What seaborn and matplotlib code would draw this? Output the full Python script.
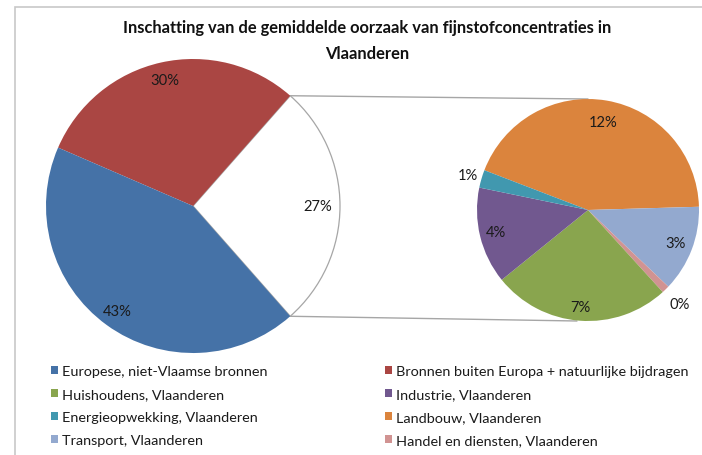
import numpy as np
import matplotlib
matplotlib.use("Agg")
import matplotlib.pyplot as plt
import matplotlib.patches as mpatches
import seaborn as sns

# ---- data ----
title = "Inschatting van de gemiddelde oorzaak van fijnstofconcentraties in\nVlaanderen"
main_labels = ["Europese, niet-Vlaamse bronnen", "Bronnen buiten Europa + natuurlijke bijdragen"]
main_values = [43, 30]
sub_labels = ["Landbouw, Vlaanderen", "Transport, Vlaanderen", "Handel en diensten, Vlaanderen",
              "Huishoudens, Vlaanderen", "Industrie, Vlaanderen", "Energieopwekking, Vlaanderen"]
sub_values = [11.8, 3.4, 0.3, 7.0, 3.8, 0.7]
legend_order = ["Europese, niet-Vlaamse bronnen", "Bronnen buiten Europa + natuurlijke bijdragen",
                "Huishoudens, Vlaanderen", "Industrie, Vlaanderen",
                "Energieopwekking, Vlaanderen", "Landbouw, Vlaanderen",
                "Transport, Vlaanderen", "Handel en diensten, Vlaanderen"]

sns.set_style("white")
plt.rcParams['font.family'] = ['Lato', 'DejaVu Sans']

colors = {
    "Europese, niet-Vlaamse bronnen": "#4572A7",
    "Bronnen buiten Europa + natuurlijke bijdragen": "#AA4643",
    "Huishoudens, Vlaanderen": "#89A54E",
    "Industrie, Vlaanderen": "#71588F",
    "Energieopwekking, Vlaanderen": "#4198AF",
    "Landbouw, Vlaanderen": "#DB843D",
    "Transport, Vlaanderen": "#93A9CF",
    "Handel en diensten, Vlaanderen": "#D19392",
}

W, H = 702, 456
fig = plt.figure(figsize=(W / 100, H / 100), dpi=100)
ax = fig.add_axes([0, 0, 1, 1])

lab_fs = 10.6
lab_col = "#1a1a1a"

# ---- left pie ----
other = sum(sub_values)
left_vals = [other, main_values[1], main_values[0]]
left_cols = ["white", colors[main_labels[1]], colors[main_labels[0]]]
c1 = (193, H - 207)
r1 = 147
w1, _ = ax.pie(left_vals, colors=left_cols, startangle=-other / sum(left_vals) * 180,
               counterclock=True, center=c1, radius=r1,
               wedgeprops=dict(linewidth=0))
w1[0].set_edgecolor("#A6A6A6")
w1[0].set_linewidth(0.9)
tot1 = sum(left_vals)
for w, v, f in zip(w1, left_vals, [0.85, 0.88, 0.88]):
    a = np.deg2rad((w.theta1 + w.theta2) / 2)
    ax.text(c1[0] + f * r1 * np.cos(a), c1[1] + f * r1 * np.sin(a), f"{round(v / tot1 * 100)}%",
            ha="center", va="center", fontsize=lab_fs, color=lab_col)

# ---- right pie ----
c2 = (588, H - 211)
r2 = 111
sub_cols = [colors[l] for l in sub_labels]
w2, _ = ax.pie(sub_values, colors=sub_cols, startangle=159, counterclock=False,
               center=c2, radius=r2, wedgeprops=dict(linewidth=0))
for w, v, f in zip(w2, sub_values, [0.8, 0.84, 1.18, 0.88, 0.85, 1.13]):
    a = np.deg2rad((w.theta1 + w.theta2) / 2)
    ax.text(c2[0] + f * r2 * np.cos(a), c2[1] + f * r2 * np.sin(a), f"{round(v / tot1 * 100)}%",
            ha="center", va="center", fontsize=lab_fs, color=lab_col)

# ---- connector lines ----
wt = w1[0]
for ang, sign in [(wt.theta2, 1), (wt.theta1, -1)]:
    a = np.deg2rad(ang)
    p = (c1[0] + r1 * np.cos(a), c1[1] + r1 * np.sin(a))
    q = (c2[0] - (0 if sign > 0 else 11), c2[1] + sign * r2)
    ax.plot([p[0], q[0]], [p[1], q[1]], color="#A6A6A6", lw=1.0, zorder=0)

ax.set_xlim(0, W)
ax.set_ylim(0, H)
ax.set_aspect("auto")
ax.axis("off")

# ---- border ----
fig.add_artist(mpatches.Rectangle((15 / W, -0.1), 1.2, (H - 7.5) / H + 0.1,
                                  transform=fig.transFigure, fill=False,
                                  edgecolor="#C8C8C8", lw=1.2))

# ---- title ----
fig.text(367 / W, 1 - 41 / H, title, ha="center", va="center", fontsize=11.9,
         fontweight="bold", linespacing=1.8, color="#111111")

# ---- legend (two columns, row-major order) ----
col1 = legend_order[0::2]
col2 = legend_order[1::2]
for items, x0 in [(col1, 51), (col2, 385)]:
    handles = [mpatches.Patch(facecolor=colors[l], edgecolor="none", label=l) for l in items]
    fig.legend(handles=handles, ncol=1, loc="upper left",
               bbox_to_anchor=(x0 / W, 1 - 366 / H), borderaxespad=0,
               frameon=False, fontsize=10.4, handlelength=0.5, handleheight=0.5,
               handletextpad=0.28, labelspacing=0.76, borderpad=0,
               labelcolor="#1a1a1a")

fig.savefig("out.png", dpi=100)
